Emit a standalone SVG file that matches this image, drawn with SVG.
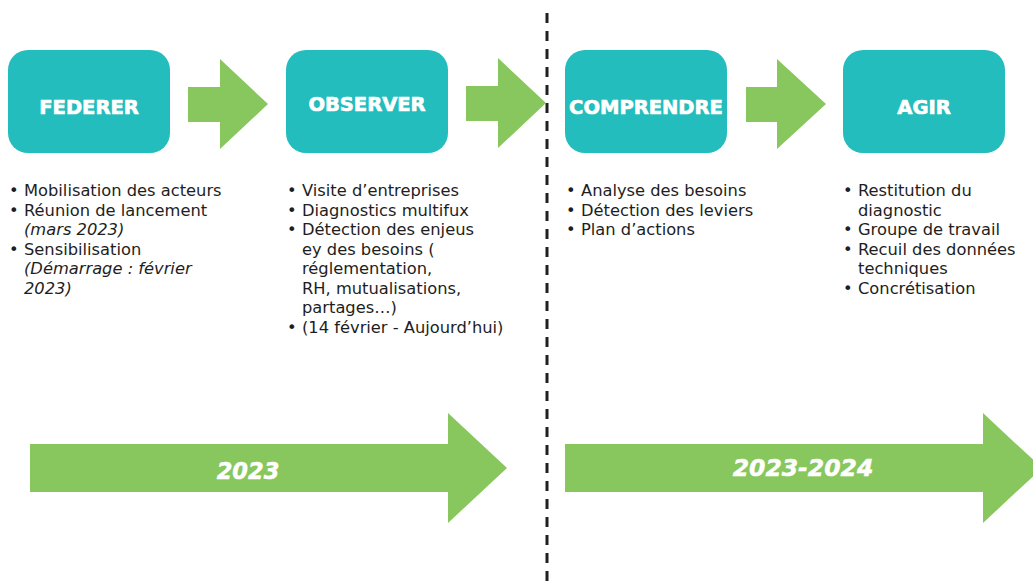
<svg xmlns="http://www.w3.org/2000/svg" width="1033" height="587" viewBox="0 0 1033 587">
<style>
.box{fill:#22bdbc}
.arr{fill:#88c75d}
.lbl{font-family:"DejaVu Sans",sans-serif;font-weight:bold;font-size:19.5px;fill:#fff;stroke:#fff;stroke-width:0.7;text-anchor:middle}
.yr{font-family:"DejaVu Sans",sans-serif;font-weight:bold;font-style:italic;fill:#fff;stroke:#fff;stroke-width:0.5;text-anchor:middle}
.tx{font-family:"DejaVu Sans",sans-serif;font-size:16.3px;fill:#1e1e1e}
.it{font-style:italic}
.dash{stroke:#231f20;stroke-width:3;stroke-dasharray:10 8;fill:none}
</style>
<rect width="1033" height="587" fill="#fff"/>
<g id="divider"><line class="dash" x1="547" y1="13" x2="547" y2="587"/></g>
<g id="connectors">
<polygon class="arr" points="188,87 220,87 220,59 268,104 220,149 220,122 188,122"/>
<polygon class="arr" points="466,86 498,86 498,58 546,103 498,148 498,121 466,121"/>
<polygon class="arr" points="746,87 777,87 777,59 826,104 777,149 777,122 746,122"/>
</g>
<g id="node-federer"><rect class="box" x="8" y="50" width="162" height="103" rx="20"/><text class="lbl" x="89" y="114">FEDERER</text></g>
<g id="node-observer"><rect class="box" x="286" y="50" width="162" height="103" rx="20"/><text class="lbl" x="367" y="111">OBSERVER</text></g>
<g id="node-comprendre"><rect class="box" x="565" y="50" width="162" height="103" rx="20"/><text class="lbl" x="646" y="114">COMPRENDRE</text></g>
<g id="node-agir"><rect class="box" x="843" y="50" width="162" height="103" rx="20"/><text class="lbl" x="924" y="114">AGIR</text></g>
<g id="list-federer" class="tx">
<text x="9" y="196">•</text><text x="24" y="196">Mobilisation des acteurs</text>
<text x="9" y="216">•</text><text x="24" y="216">Réunion de lancement</text>
<text x="24" y="235" class="it">(mars 2023)</text>
<text x="9" y="255">•</text><text x="24" y="255">Sensibilisation</text>
<text x="24" y="274" class="it">(Démarrage : février</text>
<text x="24" y="294" class="it">2023)</text>
</g>
<g id="list-observer" class="tx">
<text x="287" y="196">•</text><text x="302" y="196">Visite d’entreprises</text>
<text x="287" y="215.5">•</text><text x="302" y="215.5">Diagnostics multifux</text>
<text x="287" y="235">•</text><text x="302" y="235">Détection des enjeus</text>
<text x="302" y="254.5">ey des besoins (</text>
<text x="302" y="274">réglementation,</text>
<text x="302" y="293.5">RH, mutualisations,</text>
<text x="302" y="313">partages…)</text>
<text x="287" y="332.5">•</text><text x="302" y="332.5">(14 février - Aujourd’hui)</text>
</g>
<g id="list-comprendre" class="tx">
<text x="566" y="196">•</text><text x="581" y="196">Analyse des besoins</text>
<text x="566" y="216">•</text><text x="581" y="216">Détection des leviers</text>
<text x="566" y="235">•</text><text x="581" y="235">Plan d’actions</text>
</g>
<g id="list-agir" class="tx">
<text x="843" y="196">•</text><text x="858" y="196">Restitution du</text>
<text x="858" y="216">diagnostic</text>
<text x="843" y="235">•</text><text x="858" y="235">Groupe de travail</text>
<text x="843" y="255">•</text><text x="858" y="255">Recuil des données</text>
<text x="858" y="274">techniques</text>
<text x="843" y="294">•</text><text x="858" y="294">Concrétisation</text>
</g>
<g id="timeline-2023"><polygon class="arr" points="30,444 448,444 448,413 507,468 448,523 448,492 30,492"/><text class="yr" x="248" y="479" font-size="22.5">2023</text></g>
<g id="timeline-2023-2024"><polygon class="arr" points="565,444 983,444 983,413 1042,468 983,523 983,492 565,492"/><text class="yr" x="803" y="476" font-size="23.5">2023-2024</text></g>
</svg>
